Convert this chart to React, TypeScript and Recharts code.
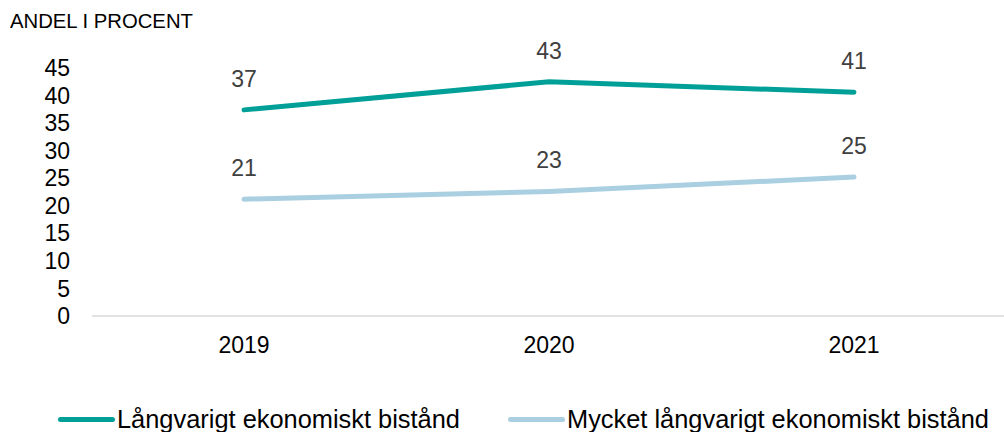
import React from "react";
import { LineChart, Line, XAxis, YAxis, LabelList } from "recharts";

const years = ["2019", "2020", "2021"];
const longTerm = [37.4, 42.5, 40.6];
const veryLongTerm = [21.2, 22.6, 25.2];
const yTicks = [0, 5, 10, 15, 20, 25, 30, 35, 40, 45];
const seriesNames = ["Långvarigt ekonomiskt bistånd", "Mycket långvarigt ekonomiskt bistånd"];
const colors = ["#00a098", "#a9cfe1"];
const axisTitle = "ANDEL I PROCENT";

const data = years.map((y, i) => ({ year: y, a: longTerm[i], b: veryLongTerm[i] }));

const FONT = '"Liberation Sans", Arial, sans-serif';

const LegendBlock = () => (
  <div style={{ position: "absolute", left: 0, top: 404, width: 1004, height: 30, fontFamily: FONT, fontSize: 25.4, color: "#000" }}>
    {seriesNames.map((n, i) => (
      <div
        key={n}
        style={{
          position: "absolute",
          left: i === 0 ? 58 : 508,
          top: 0,
          display: "flex",
          alignItems: "center",
          whiteSpace: "nowrap",
          lineHeight: "30px",
        }}
      >
        <span
          style={{
            display: "inline-block",
            width: 57,
            height: 5,
            borderRadius: 3,
            background: colors[i],
            marginRight: 2,
          }}
        />
        <span>{n}</span>
      </div>
    ))}
  </div>
);

export default function App() {
  return (
    <div style={{ position: "absolute", left: 0, top: 0, width: 1004, height: 432, background: "#fff", overflow: "hidden" }}>
      <div style={{ position: "absolute", left: 10, top: 9, fontFamily: FONT, fontSize: 20.3, color: "#000", lineHeight: "24px" }}>
        {axisTitle}
      </div>
      <LineChart
        width={1004}
        height={432}
        data={data}
        margin={{ top: 68, right: 0, bottom: 76, left: 0 }}
      >
        <XAxis
          dataKey="year"
          scale="point"
          padding={{ left: 152, right: 150 }}
          axisLine={{ stroke: "#d9d9d9", strokeWidth: 1.5 }}
          tickLine={false}
          tickSize={0}
          tickMargin={21}
          tick={{ fill: "#000", fontSize: 23, fontFamily: FONT }}
          height={40}
        />
        <YAxis
          domain={[0, 45]}
          ticks={yTicks}
          interval={0}
          axisLine={false}
          tickLine={false}
          tickSize={0}
          tickMargin={22}
          width={92}
          tick={{ fill: "#000", fontSize: 23, fontFamily: FONT }}
        />
        <Line
          dataKey="a"
          name={seriesNames[0]}
          stroke={colors[0]}
          strokeWidth={5}
          strokeLinecap="round"
          dot={false}
          activeDot={false}
          type="linear"
          isAnimationActive={false}
        >
          <LabelList
            dataKey="a"
            position="top"
            offset={23}
            formatter={(v: number) => Math.round(v)}
            style={{ fill: "#404040", fontSize: 23, fontFamily: FONT }}
          />
        </Line>
        <Line
          dataKey="b"
          name={seriesNames[1]}
          stroke={colors[1]}
          strokeWidth={5}
          strokeLinecap="round"
          dot={false}
          activeDot={false}
          type="linear"
          isAnimationActive={false}
        >
          <LabelList
            dataKey="b"
            position="top"
            offset={23}
            formatter={(v: number) => Math.round(v)}
            style={{ fill: "#404040", fontSize: 23, fontFamily: FONT }}
          />
        </Line>
      </LineChart>
      <LegendBlock />
    </div>
  );
}
